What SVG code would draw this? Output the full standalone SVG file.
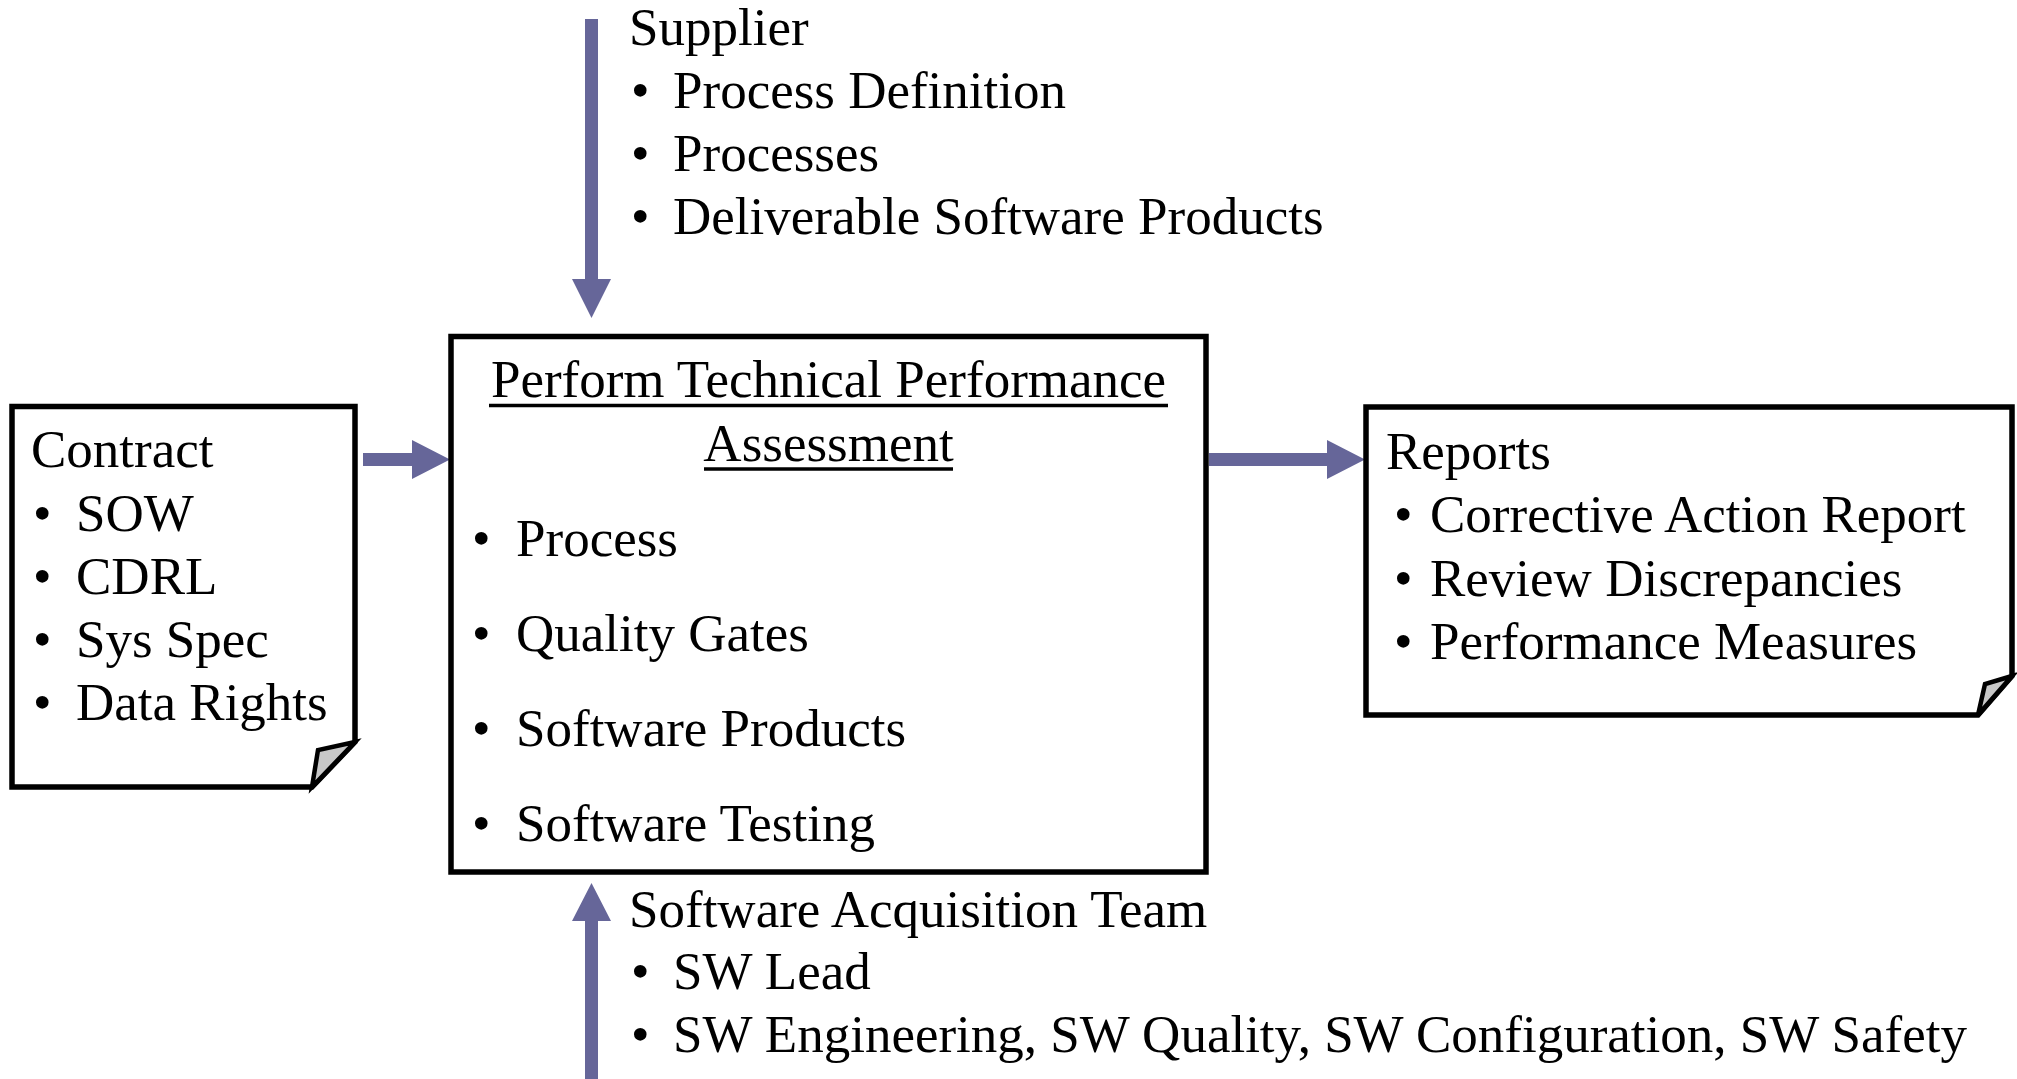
<svg xmlns="http://www.w3.org/2000/svg" width="2017" height="1079" viewBox="0 0 2017 1079">
<style>
  .t { font-family: "Liberation Serif", "Times New Roman", serif; font-size: 53px; fill: #000; }
  .box { fill: #fff; stroke: #000; stroke-width: 5.5; stroke-linejoin: miter; }
  .flap { fill: #c8c8c8; stroke: #000; stroke-width: 4.5; stroke-linejoin: miter; }
  .arrow { fill: #666699; stroke: none; }
  .ul { stroke: #000; stroke-width: 3.5; }
</style>
<rect width="2017" height="1079" fill="#fff"/>

<g id="connectors">
  <polygon id="arrow-contract-main" class="arrow" points="363,453 412,453 412,440 450,459.5 412,479 412,466 363,466"/>
  <polygon id="arrow-main-reports" class="arrow" points="1209,453 1327,453 1327,440 1365,459.5 1327,479 1327,466 1209,466"/>
  <polygon id="arrow-supplier-main" class="arrow" points="585,19 598,19 598,279 611,279 591.5,318 572,279 585,279"/>
  <polygon id="arrow-team-main" class="arrow" points="585,1079 598,1079 598,921 611,921 591.5,883 572,921 585,921"/>
</g>

<g id="contract">
  <path class="box" d="M12,406.5 H355 V742 L312,787 H12 Z"/>
  <polygon class="flap" points="355,742 318,750 312,787"/>
  <text class="t" x="31" y="467">Contract</text>
  <text class="t" x="33" y="530.5">•</text><text class="t" x="76" y="530.5">SOW</text>
  <text class="t" x="33" y="594">•</text><text class="t" x="76" y="594">CDRL</text>
  <text class="t" x="33" y="657">•</text><text class="t" x="76" y="657">Sys Spec</text>
  <text class="t" x="33" y="720">•</text><text class="t" x="76" y="720">Data Rights</text>
</g>

<g id="main">
  <rect class="box" x="451" y="336.5" width="755" height="535.5"/>
  <text class="t" x="828.5" y="397" text-anchor="middle">Perform Technical Performance</text>
  <line class="ul" x1="489" y1="405.5" x2="1168" y2="405.5"/>
  <text class="t" x="828.5" y="461" text-anchor="middle">Assessment</text>
  <line class="ul" x1="704" y1="469" x2="953" y2="469"/>
  <text class="t" x="472" y="556">•</text><text class="t" x="516" y="556">Process</text>
  <text class="t" x="472" y="651">•</text><text class="t" x="516" y="651">Quality Gates</text>
  <text class="t" x="472" y="746">•</text><text class="t" x="516" y="746">Software Products</text>
  <text class="t" x="472" y="841">•</text><text class="t" x="516" y="841">Software Testing</text>
</g>

<g id="reports">
  <path class="box" d="M1366,407 H2012 V676 L1978,715 H1366 Z"/>
  <polygon class="flap" points="2012,676 1985,684 1978,715"/>
  <text class="t" x="1386" y="469">Reports</text>
  <text class="t" x="1394" y="532">•</text><text class="t" x="1430" y="532">Corrective Action Report</text>
  <text class="t" x="1394" y="596">•</text><text class="t" x="1430" y="596">Review Discrepancies</text>
  <text class="t" x="1394" y="659">•</text><text class="t" x="1430" y="659">Performance Measures</text>
</g>

<g id="supplier">
  <text class="t" x="629" y="45">Supplier</text>
  <text class="t" x="631" y="108">•</text><text class="t" x="673" y="108">Process Definition</text>
  <text class="t" x="631" y="171">•</text><text class="t" x="673" y="171">Processes</text>
  <text class="t" x="631" y="234">•</text><text class="t" x="673" y="234">Deliverable Software Products</text>
</g>

<g id="team">
  <text class="t" x="629" y="927">Software Acquisition Team</text>
  <text class="t" x="631" y="989">•</text><text class="t" x="673" y="989">SW Lead</text>
  <text class="t" x="631" y="1052">•</text><text class="t" x="673" y="1052">SW Engineering, SW Quality, SW Configuration, SW Safety</text>
</g>
</svg>
